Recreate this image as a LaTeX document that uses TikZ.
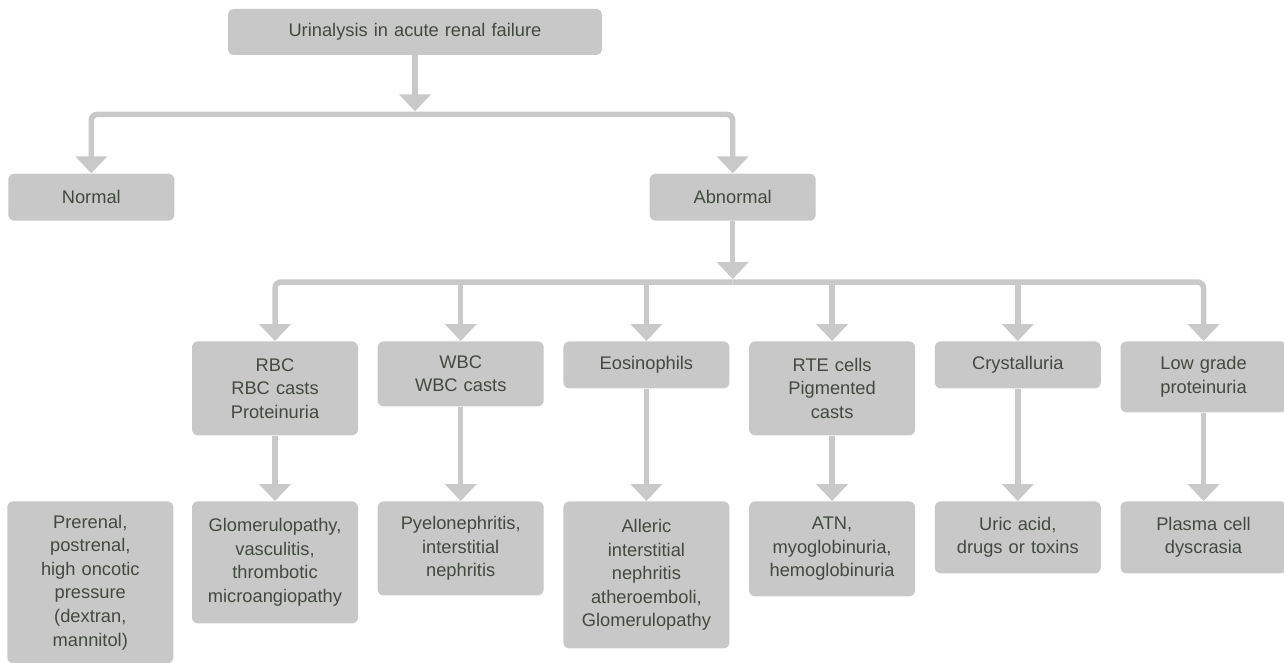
\documentclass[tikz,border=0pt]{standalone}
\usepackage{fontspec}
\setmainfont{Liberation Sans}
\usetikzlibrary{arrows.meta,positioning}
\definecolor{boxGray}{RGB}{200,200,200}
\definecolor{linkGray}{RGB}{201,201,201}
\definecolor{inkDark}{RGB}{66,74,62}
\tikzset{
  box/.style={fill=boxGray, rounded corners=0.12cm, align=center, text=inkDark, inner xsep=0.2cm, inner ysep=0.1cm, text width=2.92cm, minimum height=0.94cm, font=\fontsize{10.4}{13.4}\selectfont},
  flow/.style={-{Triangle[width=0.62cm, length=0.34cm]}, line width=0.11cm, draw=linkGray, rounded corners=0.12cm},
  stem/.style={flow, shorten >=0.06cm}
}

\begin{document}
\begin{tikzpicture}
        \useasboundingbox (0,0) rectangle (25.68,-13.26);
        \node[box, text width=7.08cm, minimum height=0.92cm] (top) at (8.3,-0.64) {Urinalysis in acute renal failure};
        \node[box, below left=2.36cm and 1.06cm of top] (normal) {Normal};
        \node[box, below right=2.36cm and 0.94cm of top] (abn) {Abnormal};
        % second row
        \node[box, below right=2.4cm and 0.34cm of normal, minimum height=1.88cm] (rbc) {RBC\\RBC casts\\Proteinuria};
        \node[box, right=0.38cm of rbc.north east, anchor=north west, minimum height=1.3cm] (wbc) {WBC\\WBC casts};
        \node[box, right=0.38cm of wbc.north east, anchor=north west] (eos) {Eosinophils};
        \node[box, right=0.38cm of eos.north east, anchor=north west, minimum height=1.88cm] (rte) {RTE cells\\Pigmented\\casts};
        \node[box, right=0.38cm of rte.north east, anchor=north west] (crys) {Crystalluria};
        \node[box, right=0.38cm of crys.north east, anchor=north west, minimum height=1.42cm] (low) {Low grade\\proteinuria};
        % third row
        \node[box, below=3.2cm of rbc.north, minimum height=2.44cm] (glom) {Glomerulopathy,\\vasculitis,\\thrombotic\\microangiopathy};
        \node[box, left=0.36cm of glom.north west, anchor=north east, minimum height=3.24cm] (pre) {Prerenal,\\postrenal,\\high oncotic\\pressure\\(dextran,\\mannitol)};
        \node[box, below=3.2cm of wbc.north, minimum height=1.88cm] (pyelo) {Pyelonephritis,\\interstitial\\nephritis};
        \node[box, below=3.2cm of eos.north, minimum height=2.94cm] (aller) {Alleric\\interstitial\\nephritis\\atheroemboli,\\Glomerulopathy};
        \node[box, below=3.2cm of rte.north, minimum height=1.9cm] (atn) {ATN,\\myoglobinuria,\\hemoglobinuria};
        \node[box, below=3.2cm of crys.north, minimum height=1.44cm] (uric) {Uric acid,\\drugs or toxins};
        \node[box, below=3.2cm of low.north, minimum height=1.44cm] (plasma) {Plasma cell\\dyscrasia};
        \coordinate[below=1.18cm of top.south] (split1);
        \coordinate[below=1.22cm of abn.south] (split2);
        \draw[stem] (top) -- (split1);
        \draw[flow] (split1) -| (normal);
        \draw[flow] (split1) -| (abn);
        \draw[stem] (abn) -- (split2);
        \draw[flow] (split2) -| (rbc);
        \draw[flow] (split2) -| (low);
        \foreach \n in {wbc,eos,rte,crys}
          \draw[flow] (split2 -| \n) -- (\n);
        \draw[flow] (rbc) -- (glom);
        \draw[flow] (wbc) -- (pyelo);
        \draw[flow] (eos) -- (aller);
        \draw[flow] (rte) -- (atn);
        \draw[flow] (crys) -- (uric);
        \draw[flow] (low) -- (plasma);
      \end{tikzpicture}
\end{document}
